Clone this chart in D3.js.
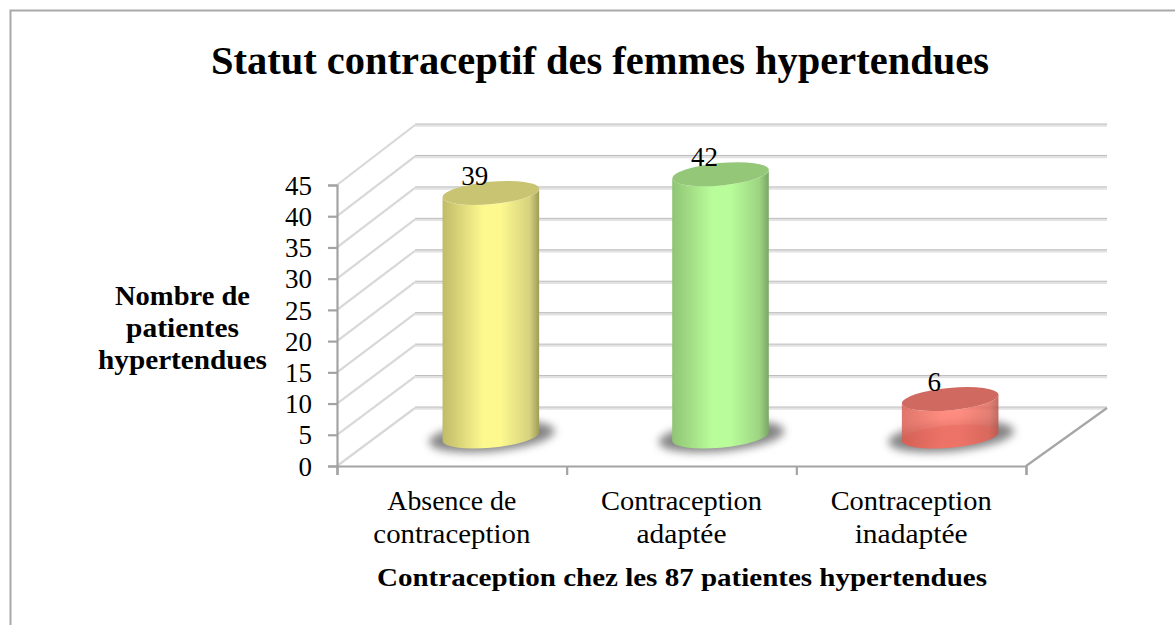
<!DOCTYPE html>
<html><head><meta charset="utf-8">
<script src="https://cdn.jsdelivr.net/npm/d3@7/dist/d3.min.js"></script>
<style>html,body{margin:0;padding:0;background:#fff;overflow:hidden}svg{display:block}text{font-family:"Liberation Serif",serif;fill:#000}</style>
</head><body><svg id="c" width="1175" height="625"></svg>
<script>
const titleText = "Statut contraceptif des femmes hypertendues";
const categories = [["Absence de","contraception"],["Contraception","adaptée"],["Contraception","inadaptée"]];
const values = [39,42,6];
const labels = ["39","42","6"];
const yTicks = [0,5,10,15,20,25,30,35,40,45];
const yTitle = ["Nombre de","patientes","hypertendues"];
const xTitle = "Contraception chez les 87 patientes hypertendues";
const sideColors = [["#c0bb68","#fdf98f","#d6d27e","#a09c58"],["#90c474","#b9fd9a","#9dd582","#7ba566"],["#d95f53","#ff7a6c","#e06a5e","#b5574c"]];
const topColors = ["#c8c472","#94c878","#d06a60"];

const svg = d3.select("#c");
const y = d3.scaleLinear().domain([0,45]).range([466,185]);
const yBack = d3.scaleLinear().domain([0,45]).range([408,125]);
const x = d3.scaleBand().domain(d3.range(3)).range([337,1026]);
const dx=78, dy=-59;
const defs = svg.append("defs");
defs.append("filter").attr("id","blur").attr("x","-30%").attr("y","-60%").attr("width","160%").attr("height","220%")
  .append("feGaussianBlur").attr("stdDeviation",4);
sideColors.forEach((c,i)=>{
  const g=defs.append("linearGradient").attr("id","side"+i);
  [[0,c[0]],[.42,c[1]],[.6,c[1]],[.9,c[2]],[1,c[3]]].forEach(s=>g.append("stop").attr("offset",s[0]).attr("stop-color",s[1]));
});
svg.append("path").attr("d",`M10.5 625V10.5H1175`).attr("fill","none").attr("stroke","#a9a9a9").attr("stroke-width",2);

function txt(s,cx,by,size,w,bold,anchor){
  const t=svg.append("text").attr("x",cx).attr("y",by).attr("font-size",size).attr("text-anchor",anchor||"middle").text(s);
  if(bold)t.attr("font-weight","bold");
  if(w)t.attr("textLength",w).attr("lengthAdjust","spacingAndGlyphs");
  return t;
}
txt(titleText,600,74,40,778,true);

const x0=x.range()[0], x1=x.range()[1];
const grid=svg.append("g");
yTicks.forEach(v=>{
  const endX = x1+dx+3;
  grid.append("path").attr("d",`M${x0} ${y(v)}L${x0+dx} ${yBack(v)}`).attr("fill","none").attr("stroke","#d8d8d8").attr("stroke-width",2.2);
  grid.append("path").attr("d",`M${x0+dx} ${yBack(v)+.5}H${endX}`).attr("fill","none").attr("stroke","#e2e2e2").attr("stroke-width",2.5);
  grid.append("path").attr("d",`M${x0+dx} ${yBack(v)-1}H${endX}`).attr("fill","none").attr("stroke","#bcbcbc").attr("stroke-width",1);
});
svg.append("path").attr("d",`M${x1} ${y(0)}L${x1+dx+3} ${yBack(0)}`).attr("fill","none").attr("stroke","#a6a6a6").attr("stroke-width",2.2);

const ay=svg.append("g").attr("transform",`translate(${x0},0)`)
  .call(d3.axisLeft(y).tickValues(yTicks).tickSize(9).tickPadding(16));
const ax=svg.append("g").attr("transform",`translate(0,${y(0)})`)
  .call(d3.axisBottom(d3.scaleLinear().domain([0,3]).range(x.range())).tickValues([0,1,2,3]).tickSize(9).tickFormat(""));
[ay,ax].forEach(a=>{a.selectAll("path,line").attr("stroke","#a3a3a3").attr("stroke-width",2.2);});
ay.selectAll("text").attr("font-size",27).attr("fill","#000").attr("dy","0.34em").style("font-family",'"Liberation Serif",serif');

const rx=48.5, ry=11.2, deg=-5.3, th=deg*Math.PI/180;
const tT=Math.atan2(-ry*Math.sin(th),rx*Math.cos(th));
const tx=rx*Math.cos(tT)*Math.cos(th)-ry*Math.sin(tT)*Math.sin(th);
const ty=rx*Math.cos(tT)*Math.sin(th)+ry*Math.sin(tT)*Math.cos(th);
values.forEach((v,i)=>{
  const cx=x(i)+x.bandwidth()/2+dx/2;
  const by=y(0)+dy/2, ty0=y(v)+dy/2;
  svg.append("ellipse").attr("transform",`translate(${cx+1},${by}) rotate(${deg})`).attr("rx",63).attr("ry",15)
    .attr("fill","#707070").attr("opacity",.85).attr("filter","url(#blur)");
  const g=svg.append("g");
  g.append("path").attr("d",`M${cx-tx} ${ty0-ty}L${cx-tx} ${by-ty}A${rx} ${ry} ${deg} 0 0 ${cx+tx} ${by+ty}L${cx+tx} ${ty0+ty}A${rx} ${ry} ${deg} 0 1 ${cx-tx} ${ty0-ty}Z`)
    .attr("fill",`url(#side${i})`).attr("opacity",i===2?0.86:1);
  if(i===2){
    g.append("ellipse").attr("transform",`translate(${cx},${by}) rotate(${deg})`).attr("rx",rx).attr("ry",ry).attr("fill","#e8574a").attr("opacity",.25);
  }
  g.append("ellipse").attr("transform",`translate(${cx},${ty0}) rotate(${deg})`).attr("rx",rx).attr("ry",ry).attr("fill",topColors[i]);
  txt(labels[i],cx-16,ty0-8,27);
});

categories.forEach((c,i)=>{
  const cx=x(i)+x.bandwidth()/2;
  const ws=[[129,157],[161,90],[161,113]][i];
  txt(c[0],cx,510,27,ws[0]);
  txt(c[1],cx,543,27,ws[1]);
});
txt(xTitle,682,586,26,610,true);
[[135,305],[113,337],[169,369]].forEach((d,i)=>txt(yTitle[i],182.5,d[1],27,d[0],true));
</script></body></html>
